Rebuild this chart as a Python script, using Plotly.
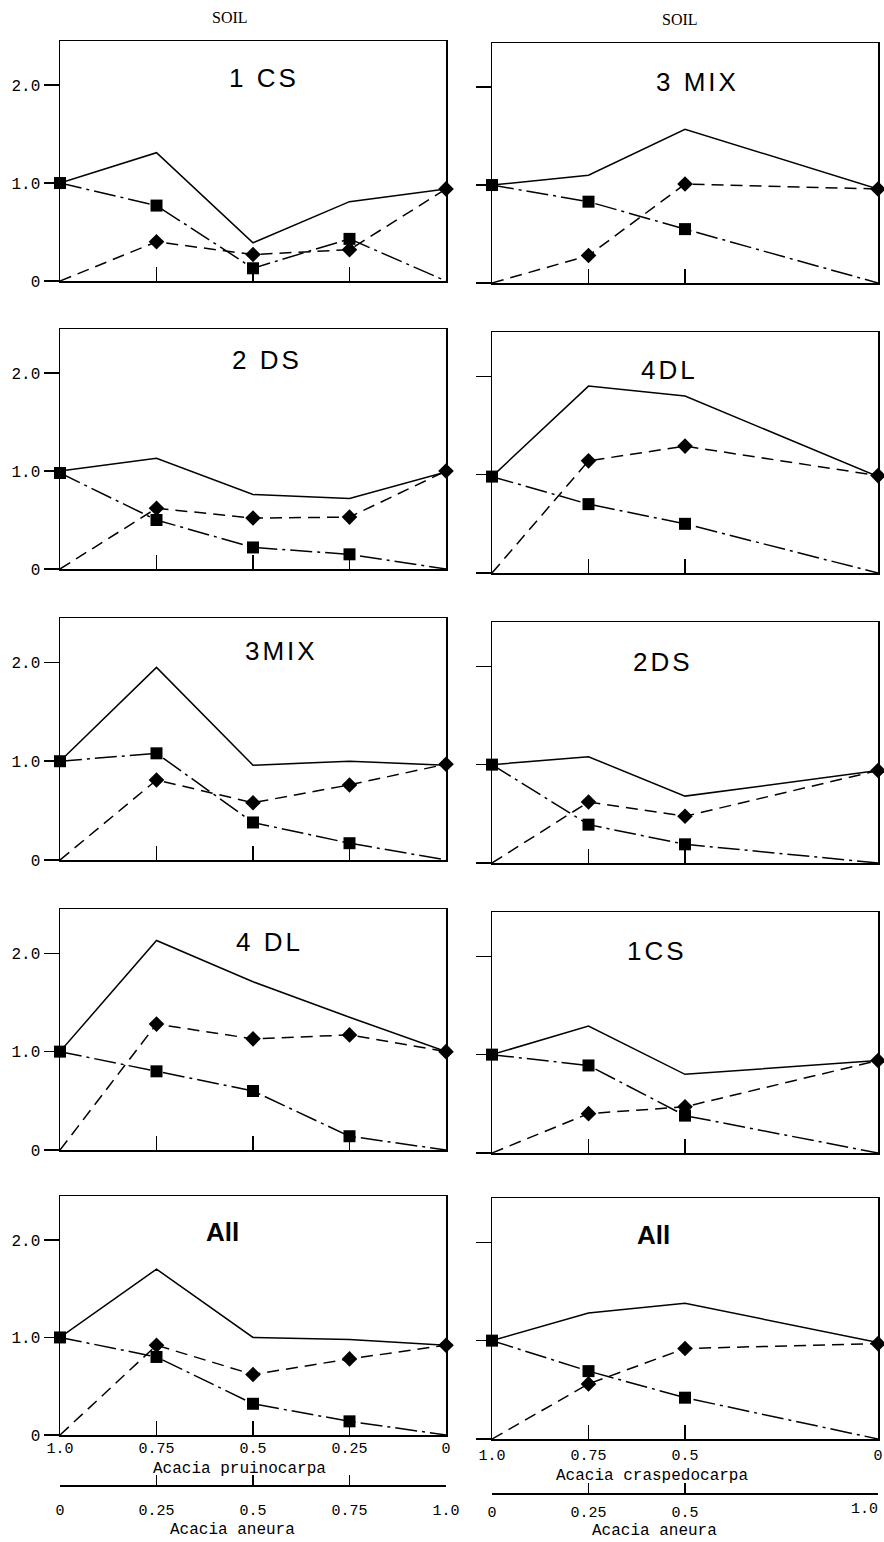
import plotly.graph_objects as go

W, H = 884, 1542

# ---------------- data ----------------
left_x = [1.0, 0.75, 0.5, 0.25, 0.0]
right_x = [1.0, 0.75, 0.5, 0.0]

left_ticktext = ["1.0", "0.75", "0.5", "0.25", "0"]
right_ticktext = ["1.0", "0.75", "0.5", "0"]
aneura_left_vals = [0.0, 0.25, 0.5, 0.75, 1.0]
aneura_left_text = ["0", "0.25", "0.5", "0.75", "1.0"]
aneura_right_vals = [0.0, 0.25, 0.5]
aneura_right_text = ["0", "0.25", "0.5"]
aneura_right_end_vals = [1.0]
aneura_right_end_text = ["1.0"]

y_tickvals = [0, 1, 2]
y_ticktext = ["0", "1.0", "2.0"]

left_labels = ["1 CS", "2 DS", "3MIX", "4 DL", "All"]
right_labels = ["3 MIX", "4DL", "2DS", "1CS", "All"]

# left column (Acacia pruinocarpa vs A. aneura)
L1CS_total = [1.0, 1.31, 0.39, 0.81, 0.94]
L1CS_sq = [1.0, 0.77, 0.13, 0.43, 0.0]
L1CS_di = [0.0, 0.40, 0.27, 0.32, 0.94]

L2DS_total = [1.0, 1.13, 0.76, 0.72, 0.99]
L2DS_sq = [0.98, 0.50, 0.22, 0.15, 0.0]
L2DS_di = [0.0, 0.62, 0.52, 0.53, 1.0]

L3MIX_total = [1.0, 1.95, 0.96, 1.0, 0.96]
L3MIX_sq = [1.0, 1.08, 0.38, 0.17, 0.0]
L3MIX_di = [0.0, 0.81, 0.58, 0.76, 0.97]

L4DL_total = [1.0, 2.13, 1.71, 1.35, 1.0]
L4DL_sq = [1.0, 0.80, 0.60, 0.14, 0.0]
L4DL_di = [0.0, 1.28, 1.13, 1.17, 1.0]

LAll_total = [1.0, 1.70, 1.0, 0.98, 0.92]
LAll_sq = [1.0, 0.80, 0.32, 0.14, 0.0]
LAll_di = [0.0, 0.92, 0.62, 0.78, 0.92]

# right column (Acacia craspedocarpa vs A. aneura)
R3MIX_total = [1.0, 1.10, 1.57, 0.96]
R3MIX_sq = [1.0, 0.83, 0.55, 0.0]
R3MIX_di = [0.0, 0.28, 1.01, 0.96]

R4DL_total = [0.98, 1.90, 1.80, 0.98]
R4DL_sq = [0.98, 0.70, 0.50, 0.0]
R4DL_di = [0.0, 1.14, 1.29, 0.99]

R2DS_total = [1.0, 1.08, 0.68, 0.94]
R2DS_sq = [1.0, 0.39, 0.19, 0.0]
R2DS_di = [0.0, 0.62, 0.475, 0.94]

R1CS_total = [1.0, 1.29, 0.80, 0.94]
R1CS_sq = [1.0, 0.89, 0.38, 0.0]
R1CS_di = [0.0, 0.40, 0.47, 0.94]

RAll_total = [1.0, 1.28, 1.38, 0.98]
RAll_sq = [1.0, 0.69, 0.42, 0.0]
RAll_di = [0.0, 0.56, 0.92, 0.97]

left_series = [
    (L1CS_total, L1CS_sq, L1CS_di),
    (L2DS_total, L2DS_sq, L2DS_di),
    (L3MIX_total, L3MIX_sq, L3MIX_di),
    (L4DL_total, L4DL_sq, L4DL_di),
    (LAll_total, LAll_sq, LAll_di),
]
right_series = [
    (R3MIX_total, R3MIX_sq, R3MIX_di),
    (R4DL_total, R4DL_sq, R4DL_di),
    (R2DS_total, R2DS_sq, R2DS_di),
    (R1CS_total, R1CS_sq, R1CS_di),
    (RAll_total, RAll_sq, RAll_di),
]

# ---------------- layout geometry (window pixels) ----------------
def fx(px):
    return px / W

def fy(py):
    return 1 - py / H

col_x = [(60, 446), (492, 878)]
rows_px = [
    [(41, 281), (43, 283)],
    [(329, 569), (332, 573)],
    [(618, 860), (622, 863)],
    [(909, 1150), (912, 1153)],
    [(1196, 1435), (1198, 1439)],
]
label_pos = [
    [(264, 78), (697, 82)],
    [(267, 360), (669, 370)],
    [(281, 651), (663, 662)],
    [(269, 942), (657, 951)],
    [(222, 1232), (653, 1235)],
]

MONO = "Liberation Mono"
tick_font = dict(family=MONO, size=16, color="black")
bottom_font = dict(family=MONO, size=15, color="black")
LW = 1.5

fig = go.Figure()
layout = dict(
    width=W, height=H,
    margin=dict(l=0, r=0, t=0, b=0, autoexpand=False),
    paper_bgcolor="white", plot_bgcolor="white",
    showlegend=False,
)
annotations = []

for r in range(5):
    for c in range(2):
        idx = r * 2 + c + 1
        xs = left_x if c == 0 else right_x
        total, sq, di = (left_series if c == 0 else right_series)[r]
        xa = "x" if idx == 1 else f"x{idx}"
        ya = "y" if idx == 1 else f"y{idx}"
        n = len(xs)
        # total (solid)
        fig.add_trace(go.Scatter(
            x=xs, y=total, xaxis=xa, yaxis=ya, mode="lines",
            line=dict(color="black", width=LW), cliponaxis=False,
            hoverinfo="skip"))
        # first species (dash-dot with squares)
        fig.add_trace(go.Scatter(
            x=xs, y=sq, xaxis=xa, yaxis=ya, mode="lines+markers",
            line=dict(color="black", width=LW, dash="22px,5px,3px,5px"),
            marker=dict(symbol="square", color="#000000", opacity=1,
                        line=dict(width=0), size=[12] * (n - 1) + [0]),
            cliponaxis=False, hoverinfo="skip"))
        # Acacia aneura (dashed with diamonds)
        fig.add_trace(go.Scatter(
            x=xs, y=di, xaxis=xa, yaxis=ya, mode="lines+markers",
            line=dict(color="black", width=LW, dash="12px,7px"),
            marker=dict(symbol="diamond", color="#000000", opacity=1,
                        line=dict(width=0), size=[0] + [12] * (n - 1)),
            cliponaxis=False, hoverinfo="skip"))

        top, bot = rows_px[r][c]
        x0, x1 = col_x[c]
        bottom_row = (r == 4)
        if c == 0:
            tv = left_x if bottom_row else [0.75, 0.5, 0.25]
            tt = left_ticktext if bottom_row else None
        else:
            tv = right_x if bottom_row else [0.75, 0.5]
            tt = right_ticktext if bottom_row else None
        xdict = dict(
            domain=[fx(x0), fx(x1)], range=[1.0, 0.0], anchor=ya,
            showline=True, mirror=True, linecolor="black", linewidth=LW,
            showgrid=False, zeroline=False, automargin=False,
            tickmode="array", tickvals=tv, ticks="inside", ticklen=14,
            tickwidth=LW, tickcolor="black",
            showticklabels=bottom_row, tickfont=bottom_font,
        )
        if tt is not None:
            xdict["ticktext"] = tt
            xdict["ticklabelstandoff"] = -2 if c == 0 else 1
        ydict = dict(
            domain=[fy(bot), fy(top)], range=[0, 2.45], anchor=xa,
            showline=True, mirror=True, linecolor="black", linewidth=LW,
            showgrid=False, zeroline=False, automargin=False,
            tickmode="array", tickvals=y_tickvals, ticktext=y_ticktext,
            ticks="outside", ticklen=15, tickwidth=LW, tickcolor="black",
            showticklabels=(c == 0), tickfont=tick_font,
        )
        layout["xaxis" if idx == 1 else f"xaxis{idx}"] = xdict
        layout["yaxis" if idx == 1 else f"yaxis{idx}"] = ydict

        lx, ly = label_pos[r][c]
        txt = (left_labels if c == 0 else right_labels)[r]
        bold = txt == "All"
        annotations.append(dict(
            x=fx(lx), y=fy(ly), xref="paper", yref="paper",
            text=(f"<b>{txt}</b>" if bold else
                  f"<span style='letter-spacing:3px'>{txt}</span>"),
            showarrow=False, xanchor="center", yanchor="middle",
            font=dict(family="Liberation Sans", size=26, color="black")))

# secondary (Acacia aneura) axes under the bottom row
sec_axes = [
    ("xaxis11", "x9", "y9", fy(1485), aneura_left_vals, aneura_left_text,
     True, 10, "outside"),
    ("xaxis12", "x10", "y10", fy(1493), aneura_right_vals, aneura_right_text,
     True, 4, "outside"),
    ("xaxis13", "x10", "y10", fy(1493), aneura_right_end_vals,
     aneura_right_end_text, False, 4, "outside left"),
]
for key, base, ya, pos, vals, text, line, standoff, tlp in sec_axes:
    layout[key] = dict(
        overlaying=base, anchor="free", position=pos, side="bottom",
        range=[0.0, 1.0], showline=line, linecolor="black", linewidth=LW,
        showgrid=False, zeroline=False, automargin=False,
        tickmode="array", tickvals=vals, ticktext=text,
        ticks="inside" if line else "", ticklen=10, tickwidth=LW,
        tickcolor="black", tickfont=bottom_font,
        ticklabelstandoff=standoff, ticklabelposition=tlp,
    )
    fig.add_trace(go.Scatter(x=[0, 1], y=[None, None], xaxis="x" + key[5:],
                             yaxis=ya, mode="lines", hoverinfo="skip"))

# column headers and axis titles
for txt, px, py, fam, size in [
    ("SOIL", 230, 18, "Liberation Serif", 16),
    ("SOIL", 680, 20, "Liberation Serif", 16),
    ("Acacia pruinocarpa", 240, 1469, MONO, 16),
    ("Acacia aneura", 232, 1530, MONO, 16),
    ("Acacia craspedocarpa", 652, 1476, MONO, 16),
    ("Acacia aneura", 654, 1531, MONO, 16),
]:
    annotations.append(dict(
        x=fx(px), y=fy(py), xref="paper", yref="paper", text=txt,
        showarrow=False, xanchor="center", yanchor="middle",
        font=dict(family=fam, size=size, color="black")))

layout["annotations"] = annotations
fig.update_layout(**layout)

# place the figure flush with the window (no default body margin / scrollbars)
page_fix = ("document.body.style.margin='0';"
            "document.body.style.overflow='hidden';"
            "document.documentElement.style.overflow='hidden';")
fig.write_html("out.html", post_script=page_fix,
               config={"displayModeBar": False, "staticPlot": True})
